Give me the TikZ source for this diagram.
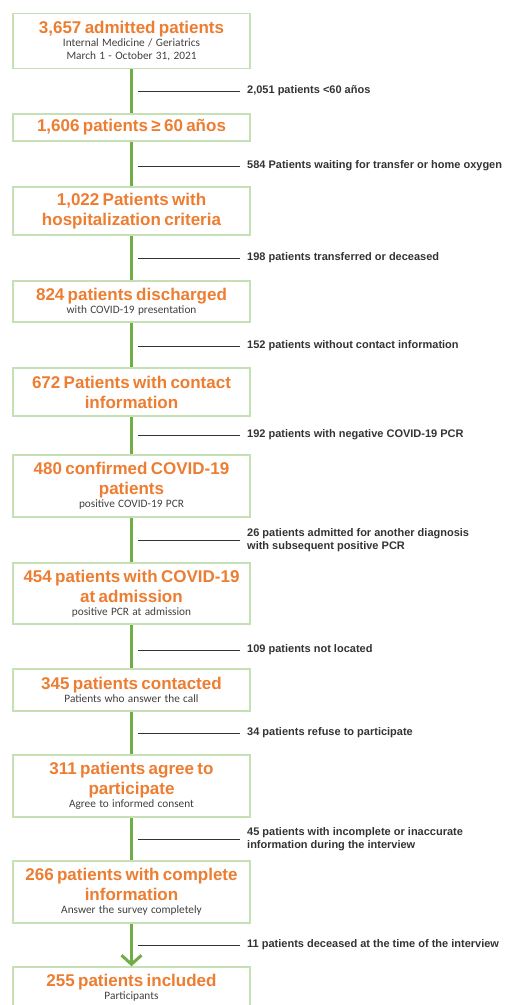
\documentclass[tikz,border=0pt]{standalone}
\usepackage{fontspec}
\setmainfont{Liberation Sans}
\newfontfamily\calfont{Carlito}
\usetikzlibrary{arrows.meta, positioning}
\definecolor{fOrange}{HTML}{ED7D31}
\definecolor{fGreen}{HTML}{70AD47}
\definecolor{fBoxGreen}{HTML}{C5E0B4}
\definecolor{fGray}{HTML}{333333}
\definecolor{fSubGray}{HTML}{404040}

\newcommand{\stagetitle}[1]{{\fontsize{17}{20}\selectfont\bfseries\color{fOrange}#1\par}}
\newcommand{\stagenote}[1]{{\calfont\fontsize{11.3}{13}\selectfont\color{fSubGray}#1\par}}

\tikzset{
  stage/.style={draw=fBoxGreen, line width=1.5pt, fill=white, text width=230pt,
    inner xsep=3.5pt, inner ysep=0pt, align=center},
  flow/.style={draw=fGreen, line width=3pt},
  drop/.style={draw=fGray, line width=0.8pt},
  droplabel/.style={anchor=west, inner xsep=7pt, inner ysep=0pt, align=left,
    font=\fontsize{11}{13.5}\selectfont\bfseries, text=fGray}
}

\begin{document}
\begin{tikzpicture}[x=1pt, y=-1pt]
  \useasboundingbox (0,0) rectangle (504,1005);

  % stages of the flow
  \node[stage, minimum height=55pt] (admitted) at (131.5,41)
    {\stagetitle{3,657 admitted patients}\stagenote{Internal Medicine / Geriatrics}\stagenote{March 1 - October 31, 2021}};
  \node[stage, minimum height=27pt] (older) at (131.5,127.5)
    {\stagetitle{1,606 patients ≥ 60 años}};
  \node[stage, minimum height=48pt] (hospcrit) at (131.5,211)
    {\stagetitle{1,022 Patients with\\hospitalization criteria}};
  \node[stage, minimum height=41pt] (discharged) at (131.5,301.5)
    {\stagetitle{824 patients discharged}\stagenote{with COVID-19 presentation}};
  \node[stage, minimum height=48pt] (contact) at (131.5,392)
    {\stagetitle{672 Patients with contact\\information}};
  \node[stage, minimum height=62pt] (confirmed) at (131.5,486)
    {\stagetitle{480 confirmed COVID-19\\patients}\stagenote{positive COVID-19 PCR}};
  \node[stage, minimum height=61pt] (atadmission) at (131.5,593.5)
    {\stagetitle{454 patients with COVID-19\\at admission}\stagenote{positive PCR at admission}};
  \node[stage, minimum height=42pt] (contacted) at (131.5,690)
    {\stagetitle{345 patients contacted}\stagenote{Patients who answer the call}};
  \node[stage, minimum height=62pt] (agree) at (131.5,786)
    {\stagetitle{311 patients agree to\\participate}\stagenote{Agree to informed consent}};
  \node[stage, minimum height=62pt] (complete) at (131.5,892)
    {\stagetitle{266 patients with complete\\information}\stagenote{Answer the survey completely}};
  \node[stage, minimum height=42pt] (included) at (131.5,988)
    {\stagetitle{255 patients included}\stagenote{Participants}};

  % green trunk
  \foreach \a/\b in {admitted/older, older/hospcrit, hospcrit/discharged,
      discharged/contact, contact/confirmed, confirmed/atadmission,
      atadmission/contacted, contacted/agree, agree/complete}
    \draw[flow] (\a) -- (\b);
  \draw[flow, -{Straight Barb[length=9pt, width=20pt]}] (complete) -- (included);

  % exclusions
  \foreach \y/\txt [count=\i] in {
      91/{2,051 patients <60 años},
      166/{584 Patients waiting for transfer or home oxygen},
      258/{198 patients transferred or deceased},
      346/{152 patients without contact information},
      435/{192 patients with negative COVID-19 PCR},
      540/{26 patients admitted for another diagnosis\\with subsequent positive PCR},
      650/{109 patients not located},
      733/{34 patients refuse to participate},
      839/{45 patients with incomplete or inaccurate\\information during the interview},
      945/{11 patients deceased at the time of the interview}} {
    \coordinate (dropend\i) at (138,\y);
    \node[droplabel] (drop\i) at (240,\y) {\txt};
    \draw[drop] (dropend\i) -- (drop\i.west);
  }
\end{tikzpicture}
\end{document}
